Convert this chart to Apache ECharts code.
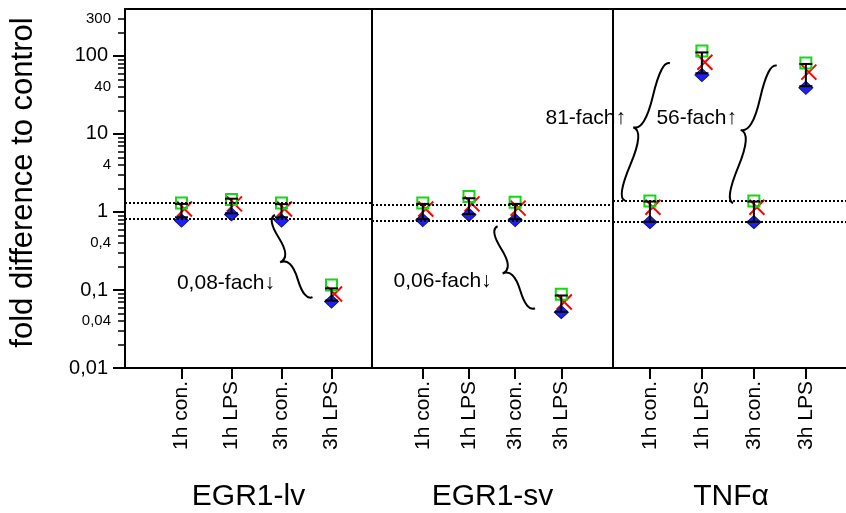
<!DOCTYPE html>
<html><head><meta charset="utf-8">
<script src="https://cdn.jsdelivr.net/npm/echarts@6/dist/echarts.min.js"></script>
<style>html,body{margin:0;padding:0;background:#fff}#c{width:846px;height:513px}</style>
</head><body><div id="c"></div>
<script>
// ---------------- data ----------------
const categories = ['1h con.', '1h LPS', '3h con.', '3h LPS'];
const groupNames = ['EGR1-lv', 'EGR1-sv', 'TNFα'];

// EGR1-lv
const egr1lvSquare  = [1.30, 1.45, 1.30, 0.116];
const egr1lvCross   = [1.09, 1.27, 1.09, 0.089];
const egr1lvDiamond = [0.775, 0.93, 0.775, 0.071];
const egr1lvErrLow  = [0.855, 0.96, 0.855, 0.073];
const egr1lvErrHigh = [1.27, 1.48, 1.26, 0.105];
// EGR1-sv
const egr1svSquare  = [1.30, 1.58, 1.33, 0.088];
const egr1svCross   = [1.09, 1.27, 1.12, 0.070];
const egr1svDiamond = [0.79, 0.92, 0.79, 0.052];
const egr1svErrLow  = [0.81, 0.94, 0.81, 0.0526];
const egr1svErrHigh = [1.27, 1.50, 1.27, 0.085];
// TNFα
const tnfSquare  = [1.38, 116, 1.38, 81];
const tnfCross   = [1.15, 83, 1.15, 62];
const tnfDiamond = [0.74, 57, 0.74, 39];
const tnfErrLow  = [0.75, 60, 0.75, 41];
const tnfErrHigh = [1.36, 111, 1.36, 79];

// dotted control range lines per panel
const egr1lvRefLines = [1.30, 0.81];
const egr1svRefLines = [1.24, 0.77];
const tnfRefLines    = [1.38, 0.75];

// fold-change annotations: brace from top point to bottom point (category position, value) and text anchor
const egr1lvBraces = [{top: [1.87, 0.915], bottom: [2.62, 0.081], text: '0,08-fach↓', at: [1.87, 0.122]}];
const egr1svBraces = [{top: [1.62, 0.656], bottom: [2.43, 0.0583], text: '0,06-fach↓', at: [1.49, 0.128]}];
const tnfBraces = [
  {top: [0.385, 80.6], bottom: [-0.48, 1.40], text: '81-fach↑', at: [-0.46, 16.0]},
  {top: [2.44, 75.1], bottom: [1.60, 1.30], text: '56-fach↑', at: [1.675, 16.0]}
];

// y-axis ticks and labels
const yMajorTicks = [0.01, 0.1, 1, 10, 100];
const yLabelValues = [0.01, 0.04, 0.1, 0.4, 1, 4, 10, 40, 100, 300];
const yMinorTicks = [0.02, 0.03, 0.04, 0.05, 0.06, 0.07, 0.08, 0.09,
  0.2, 0.3, 0.4, 0.5, 0.6, 0.7, 0.8, 0.9,
  2, 3, 4, 5, 6, 7, 8, 9,
  20, 30, 40, 50, 60, 70, 80, 90,
  200, 300];
const categoryTicks = [0, 1, 2, 3];

// ---------------- layout ----------------
const FONT = 'Liberation Sans, Arial, Helvetica, sans-serif';
const panels = [
  {left: 125, width: 247, xMin: -1.13, xMax: 3.81},
  {left: 372, width: 241, xMin: -1.10, xMax: 4.12},
  {left: 613, width: 236, xMin: -0.71, xMax: 3.83}
];
const panelData = [
  {sq: egr1lvSquare, cr: egr1lvCross, di: egr1lvDiamond, lo: egr1lvErrLow, hi: egr1lvErrHigh, ref: egr1lvRefLines, br: egr1lvBraces},
  {sq: egr1svSquare, cr: egr1svCross, di: egr1svDiamond, lo: egr1svErrLow, hi: egr1svErrHigh, ref: egr1svRefLines, br: egr1svBraces},
  {sq: tnfSquare, cr: tnfCross, di: tnfDiamond, lo: tnfErrLow, hi: tnfErrHigh, ref: tnfRefLines, br: tnfBraces}
];
const Y_MIN = 0.01, Y_MAX = 400;

function fmtNum(v) {
  v = +(+v).toPrecision(6);
  return String(v).replace('.', ',');
}
function isMajor(v) {
  const l = Math.log10(v);
  return Math.abs(l - Math.round(l)) < 1e-6;
}
function bracePath(x1, y1, x2, y2, w, q) {
  let dx = x1 - x2, dy = y1 - y2;
  const len = Math.sqrt(dx * dx + dy * dy);
  dx /= len; dy /= len;
  const qx1 = x1 + q * w * dy, qy1 = y1 - q * w * dx;
  const qx2 = (x1 - .25 * len * dx) + (1 - q) * w * dy, qy2 = (y1 - .25 * len * dy) - (1 - q) * w * dx;
  const tx1 = (x1 - .5 * len * dx) + w * dy, ty1 = (y1 - .5 * len * dy) - w * dx;
  const qx3 = x2 + q * w * dy, qy3 = y2 - q * w * dx;
  const qx4 = (x1 - .75 * len * dx) + (1 - q) * w * dy, qy4 = (y1 - .75 * len * dy) - (1 - q) * w * dx;
  return 'M' + x1 + ' ' + y1 + ' Q' + qx1 + ' ' + qy1 + ' ' + qx2 + ' ' + qy2 + ' T' + tx1 + ' ' + ty1 +
    ' M' + x2 + ' ' + y2 + ' Q' + qx3 + ' ' + qy3 + ' ' + qx4 + ' ' + qy4 + ' T' + tx1 + ' ' + ty1;
}

const grids = panels.map(p => ({
  left: p.left, width: p.width, top: 9, height: 359,
  outerBoundsMode: 'none', containLabel: false,
  show: true, borderColor: '#000', borderWidth: 2, backgroundColor: 'transparent'
}));

const xAxes = panels.map((p, i) => ({
  type: 'value', gridIndex: i, min: p.xMin, max: p.xMax,
  axisLine: {show: true, onZero: false, lineStyle: {color: '#000', width: 2}},
  axisTick: {show: true, customValues: categoryTicks, length: 11, lineStyle: {color: '#000', width: 2}},
  axisLabel: {show: true, customValues: categoryTicks, rotate: 90, margin: 13, fontSize: 21, color: '#000', fontFamily: FONT,
    formatter: v => categories[Math.round(v)] || ''},
  splitLine: {show: false},
  name: groupNames[i], nameLocation: 'middle', nameGap: 114,
  nameTextStyle: {fontSize: 30, color: '#000', fontFamily: FONT}
}));

const yAxes = [
  {
    type: 'log', logBase: 10, gridIndex: 0, min: Y_MIN, max: Y_MAX, position: 'left',
    axisLine: {show: true, onZero: false, lineStyle: {color: '#000', width: 2}},
    axisTick: {show: true, customValues: yMajorTicks, length: 12, lineStyle: {color: '#000', width: 2}},
    axisLabel: {
      show: true, customValues: yLabelValues, margin: 14, color: '#000', fontFamily: FONT,
      formatter: v => isMajor(v) ? '{big|' + fmtNum(v) + '}' : '{small|' + fmtNum(v) + '}',
      rich: {
        big: {fontSize: 20, color: '#000', fontFamily: FONT, padding: [0, 3, 0, 0]},
        small: {fontSize: 15, color: '#000', fontFamily: FONT}
      }
    },
    splitLine: {show: false},
    name: 'fold difference to control', nameLocation: 'middle', nameGap: 86,
    nameTextStyle: {fontSize: 31, color: '#000', fontFamily: FONT, padding: [0, 0, 0, 12]}
  },
  {
    type: 'log', logBase: 10, gridIndex: 0, min: Y_MIN, max: Y_MAX, position: 'left', offset: 0,
    axisLine: {show: false, onZero: false},
    axisTick: {show: true, customValues: yMinorTicks, length: 7, lineStyle: {color: '#000', width: 1.5}},
    axisLabel: {show: false}, splitLine: {show: false}
  },
  {type: 'log', logBase: 10, gridIndex: 1, min: Y_MIN, max: Y_MAX, show: false, axisLine: {onZero: false}, splitLine: {show: false}},
  {type: 'log', logBase: 10, gridIndex: 2, min: Y_MIN, max: Y_MAX, show: false, axisLine: {onZero: false}, splitLine: {show: false}}
];
const yIdx = [0, 2, 3];

const series = [];
panelData.forEach((d, p) => {
  const base = {xAxisIndex: p, yAxisIndex: yIdx[p], silent: true};
  series.push(Object.assign({}, base, {
    type: 'scatter', name: 'rep2', z: 2,
    data: d.cr.map((v, i) => [i, v]),
    symbol: 'path://M0,0L10,10M10,0L0,10', symbolSize: 15, symbolOffset: [3, 0],
    itemStyle: {color: 'rgba(0,0,0,0)', borderColor: '#ff0000', borderWidth: 2, opacity: 1}
  }));
  series.push(Object.assign({}, base, {
    type: 'scatter', name: 'rep1', z: 2,
    data: d.sq.map((v, i) => [i, v]),
    symbol: 'rect', symbolSize: 11,
    itemStyle: {color: 'rgba(0,0,0,0)', borderColor: '#14d814', borderWidth: 2, opacity: 1},
    markLine: {
      silent: true, symbol: 'none', label: {show: false},
      lineStyle: {color: '#000', type: [2, 2], width: 2, opacity: 1},
      data: d.ref.map(v => ({yAxis: v}))
    }
  }));
  series.push(Object.assign({}, base, {
    type: 'scatter', name: 'rep3', z: 2,
    data: d.di.map((v, i) => [i, v]),
    symbol: 'diamond', symbolSize: [14, 13],
    itemStyle: {color: '#1f1ff5', borderColor: '#10108a', borderWidth: 1, opacity: 1}
  }));
  series.push(Object.assign({}, base, {
    type: 'custom', name: 'err', z: 4,
    data: d.lo.map((v, i) => [i, v, d.hi[i]]),
    encode: {x: 0, y: [1, 2]},
    renderItem: function (params, api) {
      const lo = api.coord([api.value(0), api.value(1)]);
      const hi = api.coord([api.value(0), api.value(2)]);
      const hw = 6.5;
      const st = {stroke: '#000', lineWidth: 2};
      return {type: 'group', children: [
        {type: 'line', shape: {x1: lo[0], y1: lo[1], x2: hi[0], y2: hi[1]}, style: st},
        {type: 'line', shape: {x1: lo[0] - hw, y1: lo[1], x2: lo[0] + hw, y2: lo[1]}, style: st},
        {type: 'line', shape: {x1: hi[0] - hw, y1: hi[1], x2: hi[0] + hw, y2: hi[1]}, style: st}
      ]};
    }
  }));
  series.push(Object.assign({}, base, {
    type: 'custom', name: 'brace', clip: false, z: 4,
    data: d.br.map(b => [b.top[0], b.top[1], b.bottom[0], b.bottom[1], b.at[0], b.at[1]]),
    encode: {x: [0, 2, 4], y: [1, 3, 5]},
    renderItem: function (params, api) {
      const b = d.br[params.dataIndex];
      const t = api.coord([api.value(0), api.value(1)]);
      const bo = api.coord([api.value(2), api.value(3)]);
      const at = api.coord([api.value(4), api.value(5)]);
      return {type: 'group', children: [
        {type: 'path', shape: {pathData: bracePath(t[0], t[1], bo[0], bo[1], 15, 0.6)},
          style: {stroke: '#000', lineWidth: 2, fill: 'none'}},
        {type: 'text', x: at[0], y: at[1],
          style: {text: b.text, fontSize: 21, fontFamily: FONT, fill: '#000', align: 'right', verticalAlign: 'middle'}}
      ]};
    }
  }));
});

const chart = echarts.init(document.getElementById('c'), null, {renderer: 'canvas'});
chart.setOption({
  animation: false,
  backgroundColor: '#fff',
  textStyle: {fontFamily: FONT},
  grid: grids,
  xAxis: xAxes,
  yAxis: yAxes,
  series: series
});
</script>
</body></html>
